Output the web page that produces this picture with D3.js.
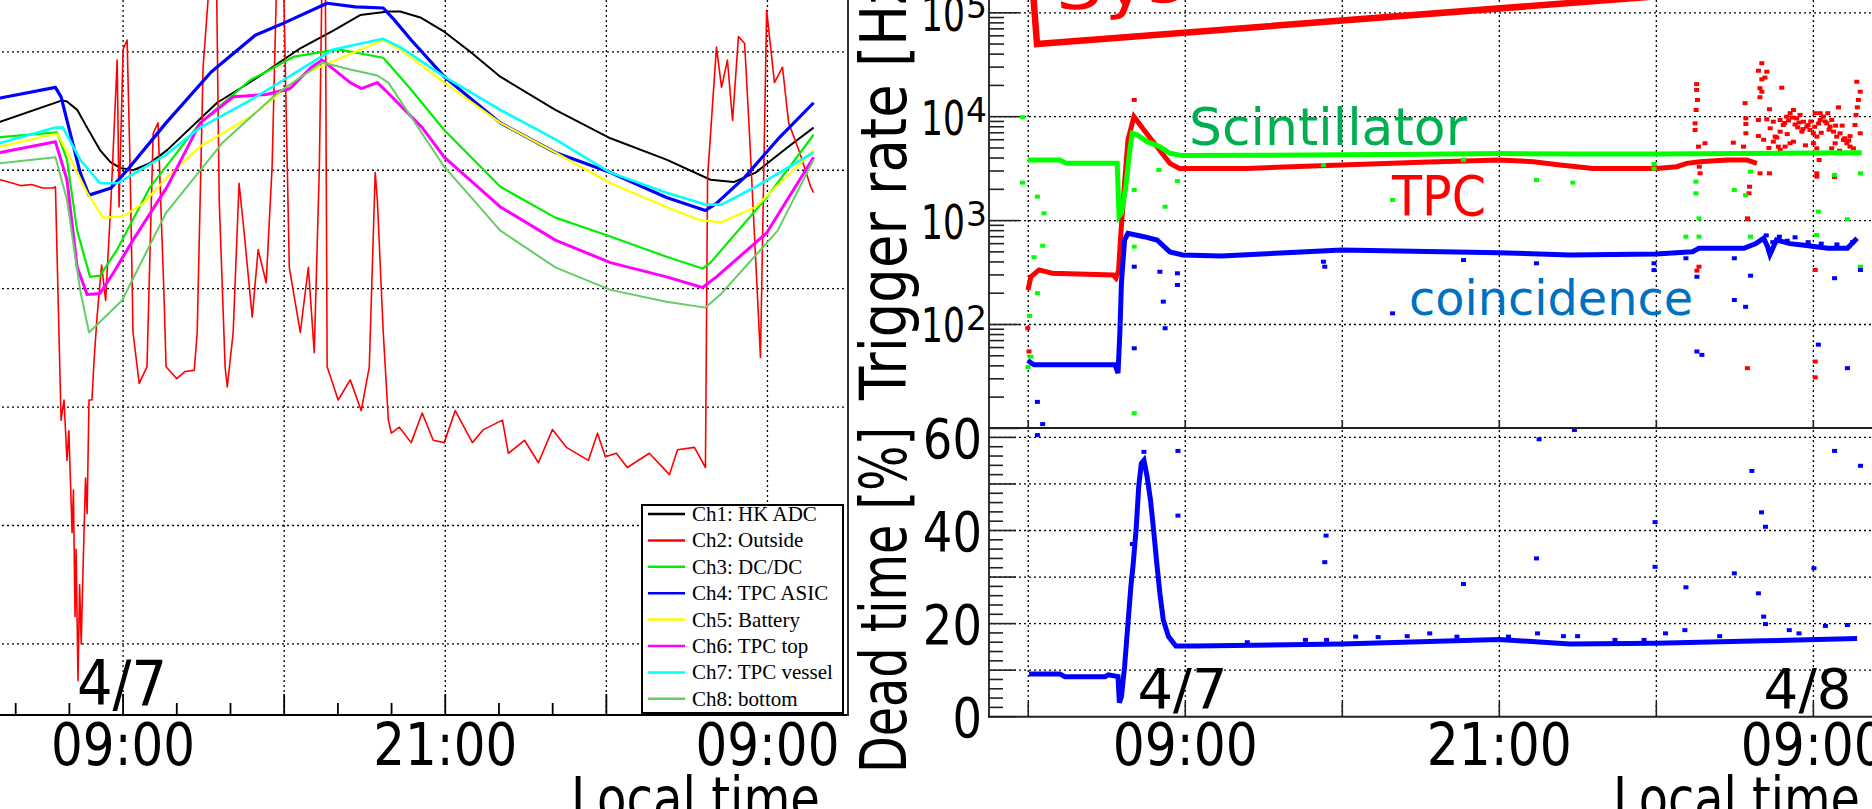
<!DOCTYPE html>
<html><head><meta charset="utf-8">
<script src="https://cdn.jsdelivr.net/npm/d3@7"></script>
<style>
html,body{margin:0;padding:0;background:#fff;overflow:hidden}
svg{display:block}
</style></head><body>
<svg id="c" width="1872" height="809" font-family="DejaVu Sans, sans-serif"></svg>
<script>
// ---------- DATA (hours since 2018-04-07 00:00) ----------
// Left panel: housekeeping temperatures [hour, value]
const ch1HK=[[4.3,24.0],[4.42,24.1],[6.73,25.9],[6.91,25.8],[7.29,25.1],[7.66,23.6],[8.14,21.7],[8.52,20.7],[8.89,20.2],[9.37,20.0],[10.0,20.6],[10.64,21.7],[12.5,25.7],[13.85,27.6],[15.6,30.3],[16.83,31.8],[17.83,33.1],[18.88,33.4],[19.32,33.4],[20.07,32.9],[20.96,31.7],[21.93,30.0],[23.05,27.9],[25.1,25.1],[27.15,22.7],[29.24,20.9],[30.88,19.2],[31.74,19.0],[32.56,19.8],[33.79,22.0],[34.72,23.6]];
const ch2Outside=[[4.3,19.2],[4.42,19.2],[4.9,18.9],[5.2,18.7],[5.6,18.8],[6.0,18.5],[6.39,18.5],[6.48,18.6],[6.69,-1.1],[6.80,0.6],[6.91,-4.5],[6.98,-2.0],[7.10,-10.6],[7.15,-7.0],[7.21,-17.7],[7.25,-12.0],[7.32,-23.1],[7.38,-15.0],[7.44,-20.0],[7.51,-13.5],[7.60,-6.0],[7.66,-9.0],[7.73,0.6],[7.84,0.6],[7.92,4.0],[8.03,7.6],[8.2,12.0],[8.35,9.0],[8.55,17.5],[8.78,29.3],[8.85,16.9],[9.0,30.2],[9.15,31.0],[9.26,20.3],[9.37,6.3],[9.60,2.0],[9.89,3.4],[10.12,23.1],[10.30,24.0],[10.53,9.0],[10.60,3.4],[11.0,2.4],[11.3,3.0],[11.65,3.1],[11.76,6.3],[11.98,28.7],[12.28,38],[12.47,38],[12.58,17.5],[12.80,3.4],[12.88,1.7],[13.10,6.3],[13.32,18.9],[13.51,14.7],[13.81,7.6],[14.03,13.3],[14.33,10.5],[14.55,20.3],[14.74,38],[14.96,38],[15.19,11.8],[15.60,6.3],[15.90,11.8],[16.12,4.6],[16.31,20.3],[16.42,38],[16.53,38],[16.60,3.4],[17.01,0.6],[17.46,2.3],[17.87,-0.3],[18.17,3.4],[18.39,19.8],[18.47,17.5],[18.69,6.3],[18.88,-1.1],[18.99,-2.2],[19.29,-1.7],[19.73,-3.0],[20.14,-0.5],[20.55,-2.8],[20.96,-3.0],[21.37,-0.3],[22.01,-3.0],[22.42,-1.9],[23.13,-1.1],[23.35,-3.9],[23.95,-2.8],[24.47,-4.7],[24.99,-1.9],[25.51,-3.4],[26.33,-4.5],[26.67,-2.2],[26.96,-4.2],[27.37,-3.9],[27.78,-5.1],[28.60,-3.9],[29.35,-5.7],[29.65,-3.6],[30.28,-3.4],[30.69,-5.1],[30.77,19.4],[31.10,30.4],[31.29,27.0],[31.51,29.3],[31.70,24.2],[31.92,31.3],[32.15,30.7],[32.33,23.1],[32.74,4.2],[32.97,33.5],[33.26,27.4],[33.56,28.7],[33.79,24.0],[34.20,21.5],[34.61,18.6],[34.72,18.1]];
const ch3DCDC=[[4.3,22.7],[4.42,22.8],[6.54,23.2],[6.91,20.9],[7.29,14.9],[7.77,11.0],[8.14,11.1],[8.78,13.3],[10.01,18.6],[11.87,24.0],[13.73,27.6],[15.37,29.6],[17.01,30.2],[18.69,29.5],[19.73,26.8],[20.96,23.4],[23.05,18.6],[25.10,16.0],[27.15,14.4],[29.24,12.7],[30.58,11.7],[30.88,12.2],[32.97,17.7],[34.72,23.0]];
const ch4ASIC=[[4.3,26.0],[4.42,26.1],[6.48,27.0],[6.69,26.2],[7.40,19.8],[7.73,17.9],[8.55,18.5],[9.15,20.0],[10.60,24.0],[12.28,28.3],[13.92,31.4],[14.96,32.4],[16.60,34.1],[17.65,33.8],[18.69,33.7],[19.10,32.7],[19.73,31.0],[20.96,27.9],[23.05,24.0],[25.10,21.5],[27.15,19.8],[29.24,17.7],[30.69,16.6],[31.10,17.2],[32.15,19.4],[33.38,22.6],[34.72,25.7]];
const ch5Battery=[[4.3,21.9],[4.42,22.0],[6.54,23.1],[7.02,21.1],[7.66,18.1],[8.25,16.0],[9.00,16.1],[9.75,17.2],[10.64,19.4],[11.87,22.0],[13.73,24.5],[15.78,28.2],[18.69,31.0],[19.32,30.2],[20.96,27.4],[23.05,24.0],[25.10,21.5],[27.15,18.9],[29.24,16.9],[30.47,15.8],[31.29,15.6],[32.56,16.9],[34.72,21.7]];
const ch6TPCtop=[[4.3,21.4],[4.42,21.5],[6.48,22.4],[6.91,19.2],[7.29,11.8],[7.66,9.5],[8.14,9.6],[8.63,11.3],[9.37,14.1],[10.64,18.6],[11.87,24.0],[13.10,26.2],[14.33,26.4],[15.22,26.9],[16.01,28.7],[16.42,29.3],[17.46,27.4],[17.87,26.9],[18.47,27.4],[18.88,26.5],[20.14,23.6],[20.96,21.1],[23.05,16.9],[25.10,14.1],[27.15,12.2],[29.24,11.0],[30.58,10.1],[31.10,11.0],[32.97,14.7],[34.72,21.1]];
const ch7Vessel=[[4.3,22.2],[4.42,22.3],[6.48,23.6],[6.76,23.6],[7.40,20.9],[8.14,18.9],[8.78,18.9],[10.60,21.3],[11.87,23.6],[13.73,25.9],[14.96,27.6],[15.60,28.5],[16.83,30.2],[18.69,31.1],[19.32,30.4],[20.96,27.9],[23.05,25.1],[25.10,22.6],[27.15,19.8],[29.24,18.1],[30.69,17.1],[31.29,17.1],[32.56,18.6],[34.72,21.5]];
const ch8Bottom=[[4.3,20.5],[4.42,20.6],[6.48,21.1],[6.91,17.5],[7.40,9.9],[7.73,6.3],[8.96,9.0],[10.60,16.4],[12.69,22.3],[14.74,26.5],[16.42,29.1],[17.46,28.5],[18.47,28.0],[18.88,27.4],[20.96,20.3],[23.05,14.9],[25.10,11.8],[27.15,9.9],[29.24,8.9],[30.69,8.4],[31.29,9.6],[33.38,14.9],[34.72,20.9]];
const channelNames=["Ch1: HK ADC","Ch2: Outside","Ch3: DC/DC","Ch4: TPC ASIC","Ch5: Battery","Ch6: TPC top","Ch7: TPC vessel","Ch8: bottom"];
const channelColors=["#000000","#ff0000","#00ee00","#0000ff","#ffff00","#ff00ff","#00ffff","#66cc66"];

// Right panel: trigger rates [hour, Hz]
const scintLine=[[2.98,3830],[4.21,3830],[4.46,3555],[6.40,3555],[6.47,1100],[6.56,1175],[6.73,2120],[6.88,4780],[6.98,6920],[7.17,6670],[7.54,5750],[8.03,5140],[8.41,4440],[8.90,4220],[12,4250],[15,4300],[18,4350],[21,4420],[24,4380],[27,4380],[30,4420],[33,4480],[34.85,4500]];
const scintPts=[[2.78,9870],[2.78,2320],[3.35,1700],[3.6,1175],[3.22,444],[3.55,573],[3.35,200],[3.05,121],[3.1,49],[2.99,39],[7.05,1970],[7.05,561],[7.05,14],[7.99,3070],[8.23,1360],[8.7,2400],[14.28,3430],[16.92,1580],[19.63,3830],[22.42,2460],[23.81,2320],[26.91,3510],[26.91,3160],[28.51,2370],[28.51,1830],[28.63,1050],[28.63,700],[28.13,700],[29.98,1970],[30.41,1760],[30.6,2960],[30.6,700],[33.19,1220],[33.12,726],[33.81,2750],[34.3,1030],[34.8,2850],[34.8,360]];
const tpcLine=[[2.99,215],[3.1,288],[3.41,335],[3.91,311],[6.24,300],[6.35,280],[6.45,330],[6.54,760],[6.68,2290],[6.81,5970],[7.04,10000],[7.42,7450],[7.92,5140],[8.41,3555],[8.78,3180],[11.36,3180],[14.97,3430],[18.0,3650],[20.99,3830],[22.3,3690],[23.32,3430],[24.59,3180],[27.01,3180],[27.78,3300],[28.16,3555],[28.67,3690],[29.69,3830],[30.45,3830],[30.84,3555]];
const tpcPts=[[2.98,92],[3.03,55],[7.05,14500],[30.48,38],[33.07,44],[33.07,31],[33.07,335],[28.63,360],[28.55,330],[30.48,1050],[33.81,2630],
[28.54,20600],[28.54,18100],[28.57,14500],[28.52,11600],[28.48,8630],[28.48,7450],[28.61,5150],[28.86,5550],[28.67,2850],[28.64,3300],
[30.39,13500],[30.42,9640],[30.42,8500],[30.42,6920],[30.33,5150],[29.94,5620],[30.56,2120],[30.54,1830],[30.49,1030],
[31.03,32700],[30.90,27700],[31.22,27100],[31.03,22900],[31.15,23800],[30.96,18800],[31.03,17400],[30.96,15400],[31.79,19000],[31.32,11800],[30.90,9290],[30.90,6520],[31.22,9440],[31.47,8950],
[31.35,7730],[31.54,6430],[31.73,7180],[31.85,8320],[31.98,10000],[32.11,10800],[32.24,11600],[32.36,9640],[32.49,10400],[32.62,8950],[32.75,8020],[32.87,7450],[33.0,6920],[33.13,6430],[33.26,9290],[33.38,10000],[33.51,8630],[33.64,8020],[33.77,7180],[33.89,6430],[34.02,6920],[34.15,5970],[34.28,5550],[34.40,5150],[34.53,4960],
[31.66,5150],[32.11,5550],[32.24,5750],[32.56,7180],[31.47,5750],[31.92,5150],[31.73,9290],[33.07,10800],[33.55,10800],[33.96,12300],[33.26,10800],[33.0,5550],[33.13,4960],[33.83,5550],[33.70,4960],
[33.22,3830],[33.13,2850],[33.13,2650],[34.66,21700],[34.79,17400],[34.72,14500],[34.68,12300],[34.63,10400],[34.59,8320],[34.79,6920],[30.96,2850],[31.32,2850],[31.73,4780],
[31.1,6000],[31.6,6300],[32.0,6800],[32.4,7900],[32.9,9000],[33.3,7000],[33.7,9300],[34.1,8200],[34.4,6500],[31.3,5000],[32.7,5300],[34.0,4700],
[31.9,8700],[32.05,9200],[32.2,9800],[32.3,8400],[32.45,8800],[32.6,7600],[32.8,8300],[33.05,8000],[33.2,8600],[33.45,9000],[33.6,7500],[33.85,8200],[34.2,6200],[34.35,5900]];
const coincLine=[[2.98,45],[3.22,41],[3.97,41],[6.31,41],[6.43,34],[6.5,83],[6.56,250],[6.68,650],[6.81,755],[7.42,700],[7.92,650],[8.41,500],[8.9,467],[10.38,456],[14.97,521],[20.99,491],[23.7,467],[26.99,477],[28.38,501],[28.63,541],[30.35,541],[30.8,600],[31.1,676],[31.25,560],[31.34,470],[31.59,650],[32.1,600],[32.58,582],[33.1,560],[33.56,541],[34.3,541],[34.67,676]];
const coincPts=[[3.35,18],[3.55,11],[7.05,360],[7.05,59],[8.03,322],[8.16,166],[8.23,92],[8.7,311],[8.7,240],[14.28,402],[14.33,360],[16.92,128],[19.63,417],[22.42,388],[26.91,388],[26.91,334],[28.13,434],[28.55,288],[28.55,55],[28.74,51],[29.98,434],[29.98,172],[30.41,148],[30.6,295],[33.19,64],[33.81,279],[34.3,38],[34.8,335],
[31.2,720],[31.3,520],[31.45,620],[31.7,700],[32.0,640],[32.3,690],[32.8,620],[33.3,600],[33.9,590],[34.5,620]];
// Right panel: dead time [hour, %]
const deadLine=[[3.03,9.2],[4.21,9.2],[4.4,8.6],[5.93,8.6],[6.06,9.0],[6.43,8.6],[6.45,6.4],[6.48,3.0],[6.56,4.3],[6.68,10.7],[6.80,19.3],[6.92,27.9],[7.0,32.2],[7.12,40.1],[7.22,49.4],[7.32,54.4],[7.42,55.1],[7.54,51.6],[7.67,46.6],[7.79,40.1],[7.91,33.0],[8.03,26.5],[8.16,20.8],[8.36,17.2],[8.64,15.2],[9.39,15.2],[14.97,15.6],[20.99,16.6],[23.7,15.6],[26.99,15.8],[31.1,16.3],[34.67,16.8]];
const deadPts=[[3.35,60.5],[3.6,62.9],[7.42,56.9],[8.72,57.1],[8.72,43.2],[6.98,37.1],[14.38,38.9],[14.33,33.2],[19.63,28.5],[22.42,34.0],[22.52,59.6],[23.87,61.6],[26.95,41.8],[26.95,32.2],[28.13,27.8],[29.98,30.8],[30.65,52.8],[31.02,43.9],[31.17,40.8],[30.9,26.5],[31.1,21.5],[31.17,19.9],[33.02,31.9],[33.81,57.1],[34.8,53.9],[33.46,19.5],[34.3,19.7],[28.09,18.6],[27.35,17.9],
[11.37,16.0],[13.59,16.5],[14.4,16.5],[15.51,17.2],[16.37,17.1],[17.48,17.3],[18.34,17.9],[19.38,17.2],[21.35,17.2],[22.46,17.9],[23.45,17.3],[23.99,17.3],[25.42,16.5],[26.53,16.5],[29.42,17.3],[32.08,18.6],[32.45,17.9]];

// Axis / tick definitions
const leftGridValues=[-20,-10,0,10,20,30];
const gridHoursL=[9,15,21,27,33];
const gridHoursR=[3,9,15,21,27,33];
const timeLabelHours=[9,21,33];
const logDecades=[1e2,1e3,1e4,1e5];
const deadGridValues=[10,20,30,40,50,60];
const deadLabelValues=[0,20,40,60];

// ---------- SCALES ----------
const base=new Date(2018,3,7,0,0,0);
const T=h=>new Date(base.getTime()+h*3600e3);
const fmt=d3.timeFormat("%H:%M");
const xL=d3.scaleTime().domain([T(3),T(36)]).range([-38,848]);
const yL=d3.scaleLinear().domain([-26,40]).range([715,-66.6]);
const xR=d3.scaleTime().domain([T(1.5),T(35.5)]).range([989,1878.8]);
const yR=d3.scaleLog().domain([10,2e5]).range([428.4,-18.5]);
const yD=d3.scaleLinear().domain([0,62]).range([716.7,428.1]);

const svg=d3.select("#c");
const defs=svg.append("defs");
defs.append("clipPath").attr("id","clipL").append("rect").attr("x",-38).attr("y",-70).attr("width",886).attr("height",785);
defs.append("clipPath").attr("id","clipU").append("rect").attr("x",989).attr("y",-20).attr("width",900).attr("height",448);
defs.append("clipPath").attr("id","clipD").append("rect").attr("x",989).attr("y",428).attr("width",900).attr("height",289);

function txt(g,x,y,s,size,len,fill,anchor){
  let x0=x;
  if(len&&anchor==="middle")x0=x-len/2;
  if(len&&anchor==="end")x0=x-len;
  const t=g.append("text").attr("x",x0).attr("y",y).attr("font-size",size).attr("fill",fill||"#000").text(s);
  if(len)t.attr("textLength",len).attr("lengthAdjust","spacingAndGlyphs");
  else if(anchor)t.attr("text-anchor",anchor);
  return t;
}
// horizontally condensed text via transform (accurate bounding box)
function ctext(g,x,y,s,size,sx,fill,anchor){
  return g.append("g").attr("transform",`translate(${x},${y}) scale(${sx},1)`)
    .append("text").attr("x",0).attr("y",0).attr("font-size",size).attr("fill",fill||"#000")
    .attr("text-anchor",anchor||"start").text(s);
}
const dot="2,3";

// ---------- LEFT PANEL ----------
const gL=svg.append("g");
gL.selectAll(".hg").data(leftGridValues).join("line").attr("x1",-38).attr("x2",848)
  .attr("y1",d=>yL(d)).attr("y2",d=>yL(d)).attr("stroke","#000").attr("stroke-width",1.3).attr("stroke-dasharray",dot);
gL.selectAll(".vg").data(gridHoursL).join("line").attr("x1",d=>xL(T(d))).attr("x2",d=>xL(T(d)))
  .attr("y1",-70).attr("y2",715).attr("stroke","#000").attr("stroke-width",1.3).attr("stroke-dasharray",dot);

const chans=[ch1HK,ch2Outside,ch3DCDC,ch4ASIC,ch5Battery,ch6TPCtop,ch7Vessel,ch8Bottom];
const widths=[2,1.6,2.2,3.2,2.2,3,2.6,2];
const lineL=d3.line().x(d=>xL(T(d[0]))).y(d=>yL(d[1]));
const gData=gL.append("g").attr("clip-path","url(#clipL)");
chans.forEach((c,i)=>{
  gData.append("path").attr("d",lineL(c)).attr("fill","none").attr("stroke",channelColors[i])
    .attr("stroke-width",widths[i]).attr("stroke-linejoin","round");
});
gL.append("line").attr("x1",-38).attr("x2",849).attr("y1",715).attr("y2",715).attr("stroke","#000").attr("stroke-width",2);
gL.append("line").attr("x1",848).attr("x2",848).attr("y1",-70).attr("y2",716).attr("stroke","#333").attr("stroke-width",2);
const tickHoursL=d3.range(3,36,2);
gL.selectAll(".tk").data(tickHoursL).join("line").attr("x1",d=>xL(T(d))).attr("x2",d=>xL(T(d)))
  .attr("y1",715).attr("y2",d=>((d-3)%6===0)?694:703).attr("stroke","#000").attr("stroke-width",1.8);
timeLabelHours.forEach(h=>txt(gL,xL(T(h)),765,fmt(T(h)),58,144,"#000","middle"));
txt(gL,77,705,"4/7",62,90);
txt(gL,571,819,"Local time",58,249);

// legend
const lg=gL.append("g");
lg.append("rect").attr("x",642).attr("y",505).attr("width",201).attr("height",208).attr("fill","#fff").attr("stroke","#000").attr("stroke-width",2);
channelNames.forEach((n,i)=>{
  const cy=513+i*26.4;
  lg.append("line").attr("x1",648).attr("x2",685).attr("y1",cy+1).attr("y2",cy+1).attr("stroke",channelColors[i]).attr("stroke-width",2.5);
  lg.append("text").attr("x",692).attr("y",cy+8).attr("font-size",21).style("font-family","'Liberation Serif', 'DejaVu Serif', serif").attr("fill","#000").text(n);
});

// ---------- RIGHT PANEL ----------
const gR=svg.append("g");
gR.selectAll(".ug").data(logDecades).join("line").attr("x1",989).attr("x2",1872)
  .attr("y1",d=>yR(d)).attr("y2",d=>yR(d)).attr("stroke","#000").attr("stroke-width",1.3).attr("stroke-dasharray",dot);
gR.selectAll(".uv").data(gridHoursR).join("line").attr("x1",d=>xR(T(d))).attr("x2",d=>xR(T(d)))
  .attr("y1",-20).attr("y2",428).attr("stroke","#000").attr("stroke-width",1.3).attr("stroke-dasharray",dot);
gR.selectAll(".dg").data(deadGridValues).join("line").attr("x1",989).attr("x2",1872)
  .attr("y1",d=>yD(d)).attr("y2",d=>yD(d)).attr("stroke","#000").attr("stroke-width",1.3).attr("stroke-dasharray",dot);
gR.selectAll(".dv").data(gridHoursR).join("line").attr("x1",d=>xR(T(d))).attr("x2",d=>xR(T(d)))
  .attr("y1",430).attr("y2",716).attr("stroke","#000").attr("stroke-width",1.3).attr("stroke-dasharray",dot);

// red highlight box (annotation)
const box=gR.append("g").attr("transform","translate(1037,44) rotate(-4.4)");
box.append("rect").attr("x",0).attr("y",-300).attr("width",900).attr("height",300).attr("fill","none").attr("stroke","#ff0000").attr("stroke-width",6.5);
txt(box,22,-32,"System",66,278,"#ff0000");

const lineU=d3.line().x(d=>xR(T(d[0]))).y(d=>yR(d[1]));
const gU=gR.append("g").attr("clip-path","url(#clipU)");
function pts(g,data,x,y,color){
  g.append("g").selectAll("rect").data(data).join("rect")
    .attr("x",d=>x(T(d[0]))-2.5).attr("y",d=>y(d[1])-2).attr("width",5).attr("height",4).attr("fill",color);
}
gU.append("path").attr("d",lineU(tpcLine)).attr("fill","none").attr("stroke","#ff0000").attr("stroke-width",5);
pts(gU,tpcPts,xR,yR,"#ff0000");
gU.append("path").attr("d",lineU(scintLine)).attr("fill","none").attr("stroke","#00ff00").attr("stroke-width",5);
pts(gU,scintPts,xR,yR,"#00ff00");
gU.append("path").attr("d",lineU(coincLine)).attr("fill","none").attr("stroke","#0000ff").attr("stroke-width",5);
pts(gU,coincPts,xR,yR,"#0000ff");

const lineD=d3.line().x(d=>xR(T(d[0]))).y(d=>yD(d[1]));
const gD=gR.append("g").attr("clip-path","url(#clipD)");
gD.append("path").attr("d",lineD(deadLine)).attr("fill","none").attr("stroke","#0000ff").attr("stroke-width",5);
pts(gD,deadPts,xR,yD,"#0000ff");

gR.append("line").attr("x1",989).attr("x2",989).attr("y1",-20).attr("y2",717.7).attr("stroke","#333").attr("stroke-width",2);
gR.append("line").attr("x1",988).attr("x2",1872).attr("y1",428).attr("y2",428).attr("stroke","#222").attr("stroke-width",2);
gR.append("line").attr("x1",988).attr("x2",1872).attr("y1",716.7).attr("y2",716.7).attr("stroke","#222").attr("stroke-width",2);
const logTicks=[];
for(let e=1;e<=5;e++)for(let m=1;m<=9;m++){const v=m*Math.pow(10,e);if(v>=10&&v<=1.9e5)logTicks.push(v);}
gR.selectAll(".lt").data(logTicks).join("line").attr("x1",989).attr("x2",d=>{const m=Math.round(d/Math.pow(10,Math.floor(Math.log10(d)+1e-9)));return m===1?1019:1004;})
  .attr("y1",d=>yR(d)).attr("y2",d=>yR(d)).attr("stroke","#222").attr("stroke-width",1.6);
const deadTicks=d3.range(0,62,2);
gR.selectAll(".dt").data(deadTicks).join("line").attr("x1",989).attr("x2",d=>d%10===0?1016:1003)
  .attr("y1",d=>yD(d)).attr("y2",d=>yD(d)).attr("stroke","#222").attr("stroke-width",1.6);
gR.selectAll(".xu").data(gridHoursR).join("line").attr("x1",d=>xR(T(d))).attr("x2",d=>xR(T(d)))
  .attr("y1",428).attr("y2",420).attr("stroke","#222").attr("stroke-width",1.6);
gR.selectAll(".xd").data(gridHoursR).join("line").attr("x1",d=>xR(T(d))).attr("x2",d=>xR(T(d)))
  .attr("y1",716.7).attr("y2",702).attr("stroke","#222").attr("stroke-width",1.6);

// log labels: "10" + superscript exponent (condensed via transform)
logDecades.forEach(v=>{
  const y=yR(v);
  ctext(gR,965,y+18,"10",48,0.72,"#000","end");
  ctext(gR,966,y+5.3,String(Math.round(Math.log10(v))),34,0.97,"#000","start");
});
deadLabelValues.forEach(v=>{
  ctext(gR,982,yD(v)+20.5,String(v),56,0.83,"#000","end");
});
timeLabelHours.forEach(h=>txt(gR,xR(T(h)),765,fmt(T(h)),58,145,"#000","middle"));
txt(gR,1137.5,708,"4/7",55,90);
txt(gR,1763.6,708,"4/8",55,88);
txt(gR,1613,819,"Local time",58,247);

const t1=gR.append("g").attr("transform","translate(906,400) rotate(-90)");
txt(t1,0,0,"Trigger rate [Hz]",64,445);
const t2=gR.append("g").attr("transform","translate(906,773) rotate(-90)");
txt(t2,0,0,"Dead time [%]",64,346);

txt(gR,1189,145,"Scintillator",52,278,"#00b050");
txt(gR,1392,215,"TPC",55,94,"#ff0000");
txt(gR,1409,315,"coincidence",48,284,"#0070c0");
</script>
</body></html>
